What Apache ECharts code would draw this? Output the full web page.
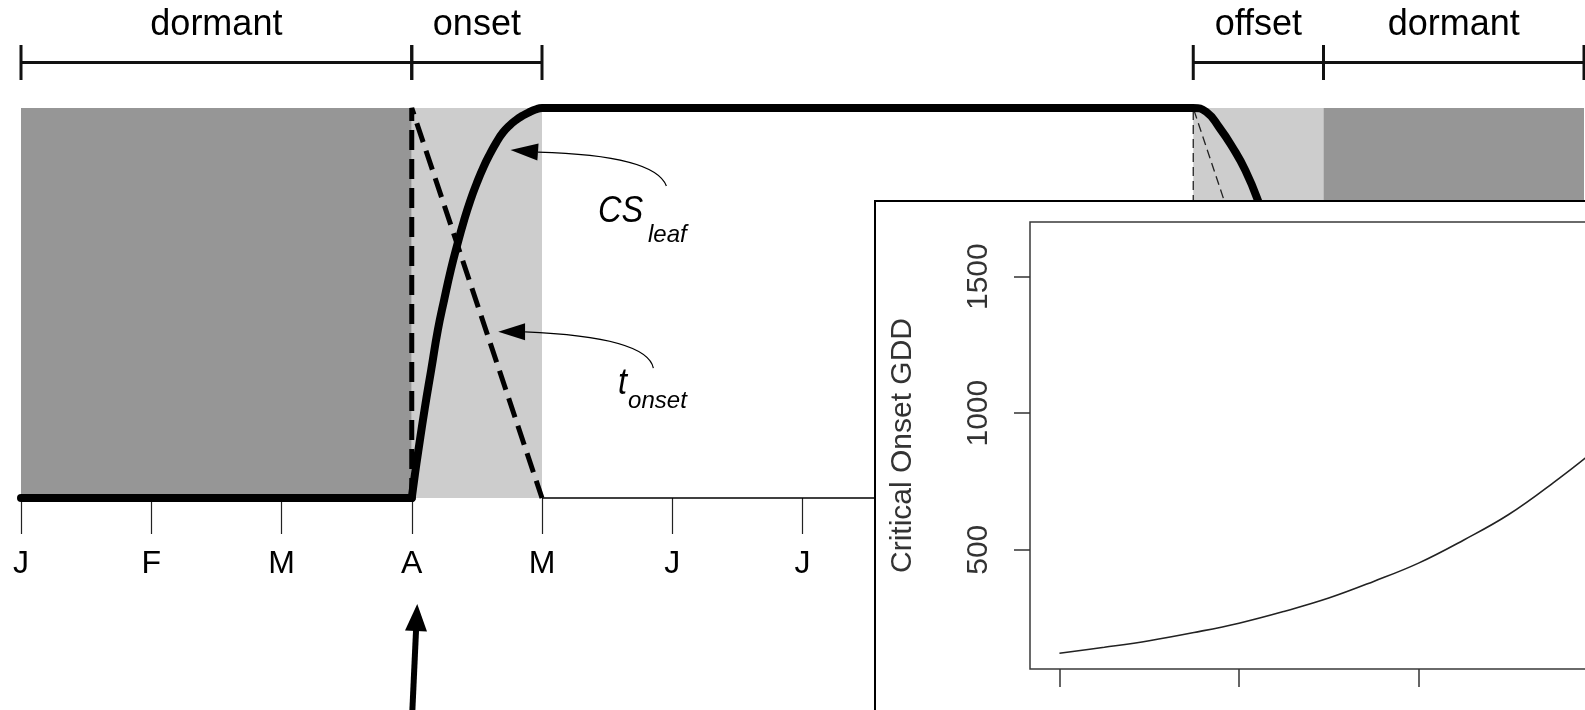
<!DOCTYPE html>
<html><head><meta charset="utf-8">
<script src="https://cdn.jsdelivr.net/npm/echarts@6/dist/echarts.min.js"></script>
<style>html,body{margin:0;padding:0;background:#fff}#c{width:1585px;height:710px}</style>
</head><body><div id="c"></div>
<script>
// ---------- data ----------
const monthLabels = ['J','F','M','A','M','J','J','A','S','O','N','D'];
const phaseNames = ['dormant','onset','offset','dormant'];
const phaseStart = [0, 3, 9, 10];
const phaseEnd = [3, 4, 10, 12];
const phaseShade = ['dark','light','light','dark'];

// canopy status CS_leaf (fraction of maximum) against month position
const csLeafX = [0,3,3.025,3.05,3.1,3.15,3.2,3.25,3.3,3.35,3.4,3.45,3.5,3.55,3.6,3.65,3.7,3.75,3.8,3.85,3.9,3.95,4,9,9.1,9.2,9.3,9.4,9.5,9.6,9.7,9.8,9.9,10,12];
const csLeafY = [0,0,0.062,0.12,0.23,0.33,0.43,0.51,0.585,0.65,0.71,0.763,0.808,0.848,0.882,0.912,0.937,0.955,0.969,0.98,0.989,0.996,1.0,1.0,0.99,0.95,0.90,0.84,0.76,0.66,0.53,0.38,0.20,0,0];

// inset: critical onset GDD curve
const insetX = [0,0.25,0.5,0.75,1,1.25,1.5,1.75,2,2.25,2.5,2.75,3,3.25,3.5,3.75,4.1];
const insetGDD = [121,143,167,197,231,274,323,384,451,535,628,745,875,1030,1220,1420,1640];
const insetXTicks = [0,1,2,3,4];
const insetYTicks = [500,1000,1500];
const insetYName = 'Critical Onset GDD';

// annotation texts
const annotMain = ['CS','t'];
const annotSub = ['leaf','onset'];

// ---------- layout (not data) ----------
const FONT = "'Liberation Sans', Arial, Helvetica, sans-serif";
const DARK = '#969696', LIGHT = '#cdcdcd';
const annotLayout = [
  {tip:[3.758,0.892], base:[3.969,0.887], ctrl:[4.868,0.879], end:[4.955,0.80], main:[4.430,0.700], sub:[4.814,0.651]},
  {tip:[3.664,0.426], base:[3.870,0.426], ctrl:[4.806,0.413], end:[4.855,0.333], main:[4.584,0.259], sub:[4.661,0.226]}
];

const chart = echarts.init(document.getElementById('c'), null, {renderer:'canvas'});

function renderBand(params, api){
  const s = api.value(0), e = api.value(1), k = api.value(2);
  const p0 = api.coord([s,1]), p1 = api.coord([e,0]);
  return {type:'rect', shape:{x:p0[0], y:p0[1], width:p1[0]-p0[0], height:p1[1]-p0[1]},
    style:{fill: k === 0 ? DARK : LIGHT}};
}

function renderBracket(params, api){
  const i = params.dataIndex;
  const s = api.value(0), e = api.value(1);
  const p0 = api.coord([s,1]), p1 = api.coord([e,1]);
  const top = p0[1];
  const yl = top - 45.5, yt0 = top - 63, yt1 = top - 28;
  const st = {stroke:'#111', lineWidth:3};
  return {type:'group', children:[
    {type:'line', shape:{x1:p0[0], y1:yl, x2:p1[0], y2:yl}, style:st},
    {type:'line', shape:{x1:p0[0], y1:yt0, x2:p0[0], y2:yt1}, style:st},
    {type:'line', shape:{x1:p1[0], y1:yt0, x2:p1[0], y2:yt1}, style:st},
    {type:'text', x:(p0[0]+p1[0])/2, y:top-83, style:{text:phaseNames[i], fontSize:36, fontFamily:FONT, fill:'#000', align:'center', verticalAlign:'middle'}}
  ]};
}

function renderAnnot(params, api){
  const i = params.dataIndex;
  const L = annotLayout[i];
  const tip = api.coord(L.tip), base = api.coord(L.base), ctrl = api.coord(L.ctrl), end = api.coord(L.end);
  const dx = tip[0]-base[0], dy = tip[1]-base[1];
  const len = Math.hypot(dx,dy);
  const nx = -dy/len, ny = dx/len, hw = 8.5;
  const m = api.coord(L.main), sb = api.coord(L.sub);
  return {type:'group', children:[
    {type:'bezierCurve', shape:{x1:base[0], y1:base[1], x2:end[0], y2:end[1], cpx1:ctrl[0], cpy1:ctrl[1]}, style:{stroke:'#000', lineWidth:1.2, fill:null}},
    {type:'polygon', shape:{points:[[tip[0],tip[1]],[base[0]+nx*hw, base[1]+ny*hw],[base[0]-nx*hw, base[1]-ny*hw]]}, style:{fill:'#000'}},
    {type:'text', x:m[0], y:m[1]-13, scaleX:0.88, originX:0, originY:0, style:{text:annotMain[i], fontSize:37, fontStyle:'italic', fontFamily:FONT, fill:'#000', align:'left', verticalAlign:'middle'}},
    {type:'text', x:sb[0], y:sb[1]-8.5, style:{text:annotSub[i], fontSize:24, fontStyle:'italic', fontFamily:FONT, fill:'#000', align:'left', verticalAlign:'middle'}}
  ]};
}

function renderBottomArrow(params, api){
  const x = api.value(0);
  const b = api.coord([x, 0]);
  const tip = [b[0] + 5.5, b[1] + 106];
  const tail = [b[0] + 0.5, b[1] + 215];
  const headLen = 27, hw = 11;
  const dx = tip[0]-tail[0], dy = tip[1]-tail[1], len = Math.hypot(dx,dy);
  const ux = dx/len, uy = dy/len;
  const base = [tip[0]-ux*headLen, tip[1]-uy*headLen];
  return {type:'group', children:[
    {type:'line', shape:{x1:tail[0], y1:tail[1], x2:base[0]+ux*2, y2:base[1]+uy*2}, style:{stroke:'#000', lineWidth:6}},
    {type:'polygon', shape:{points:[tip,[base[0]-uy*hw, base[1]+ux*hw],[base[0]+uy*hw, base[1]-ux*hw]]}, style:{fill:'#000'}}
  ]};
}

const bandData = phaseStart.map((s,i)=>[s, phaseEnd[i], phaseShade[i]==='dark'?0:1]);
const bracketData = phaseStart.map((s,i)=>[s, phaseEnd[i]]);
const onsetS = phaseStart[1], onsetE = phaseEnd[1], offS = phaseStart[2], offE = phaseEnd[2];
const csPairs = csLeafX.map((x,i)=>[x, csLeafY[i]]);
const csDormant = csPairs.slice(0, 2);
const csActive = csPairs.slice(1);

const option = {
  animation:false,
  backgroundColor:'#fff',
  textStyle:{fontFamily:FONT},
  grid:[
    {left:21, top:108, width:1563, height:390, outerBoundsMode:'none'},
    {left:875, top:201, width:800, height:600, show:true, backgroundColor:'#fff', borderColor:'#000', borderWidth:2, z:10, outerBoundsMode:'none'},
    {left:1030, top:222, width:795, height:447, show:true, backgroundColor:'rgba(0,0,0,0)', borderColor:'#3a3a3a', borderWidth:1.5, z:11, outerBoundsMode:'none'}
  ],
  xAxis:[
    {gridIndex:0, type:'value', min:0, max:12, interval:1,
     axisLine:{show:false}, splitLine:{show:false},
     axisTick:{show:true, length:36, lineStyle:{color:'#222', width:1.2}},
     axisLabel:{formatter:v => monthLabels[v] !== undefined ? monthLabels[v] : '', fontSize:32, color:'#000', margin:50, fontFamily:FONT}},
    {gridIndex:1, type:'value', min:0, max:1, show:false},
    {gridIndex:2, type:'value', min:-0.164, max:4.264, z:12,
     axisLine:{show:false, onZero:false}, splitLine:{show:false},
     axisTick:{show:true, customValues:insetXTicks, length:18, lineStyle:{color:'#333', width:1.5}},
     axisLabel:{show:false}}
  ],
  yAxis:[
    {gridIndex:0, type:'value', min:0, max:1, show:false},
    {gridIndex:1, type:'value', min:0, max:1, show:false},
    {gridIndex:2, type:'value', min:63.4, max:1700, z:12,
     axisLine:{show:false, onZero:false}, splitLine:{show:false},
     axisTick:{show:true, customValues:insetYTicks, length:16, lineStyle:{color:'#333', width:1.5}},
     axisLabel:{customValues:insetYTicks, formatter:v => String(v), rotate:90, fontSize:30, color:'#333', margin:36, fontFamily:FONT},
     name:insetYName, nameLocation:'middle', nameRotate:90, nameGap:112,
     nameTextStyle:{fontSize:30, color:'#333', fontFamily:FONT}}
  ],
  series:[
    {type:'custom', name:'bands', xAxisIndex:0, yAxisIndex:0, z:1, renderItem:renderBand, data:bandData, encode:{x:[0,1]}, silent:true},
    {type:'line', name:'baseline', xAxisIndex:0, yAxisIndex:0, z:2, clip:false, symbol:'none',
     data:[[onsetE,0],[12,0]], lineStyle:{color:'#000', width:1.5}},
    {type:'line', name:'onset dashed', xAxisIndex:0, yAxisIndex:0, z:3, clip:false, symbol:'none',
     data:[[onsetS,0],[onsetS,1],[onsetE,0]], lineStyle:{color:'#000', width:5, type:[20,9]}},
    {type:'line', name:'offset dashed', xAxisIndex:0, yAxisIndex:0, z:3, clip:false, symbol:'none',
     data:[[offS,0],[offS,1],[offE,0]], lineStyle:{color:'#222', width:1.3, type:[9,5]}},
    {type:'line', name:'CS_leaf dormant', xAxisIndex:0, yAxisIndex:0, z:4, clip:false, symbol:'none',
     data:csDormant, lineStyle:{color:'#000', width:8, cap:'round', join:'round'}},
    {type:'line', name:'CS_leaf', xAxisIndex:0, yAxisIndex:0, z:4, clip:false, symbol:'none', smooth:0.5,
     data:csActive, lineStyle:{color:'#000', width:8, cap:'round', join:'round'}},
    {type:'custom', name:'brackets', xAxisIndex:0, yAxisIndex:0, z:4, clip:false, renderItem:renderBracket, data:bracketData, encode:{x:[0,1]}, silent:true},
    {type:'custom', name:'annotations', xAxisIndex:0, yAxisIndex:0, z:5, clip:false, renderItem:renderAnnot, data:[[0],[1]], encode:{x:0}, silent:true},
    {type:'custom', name:'onset arrow', xAxisIndex:0, yAxisIndex:0, z:5, clip:false, renderItem:renderBottomArrow, data:[[onsetS]], encode:{x:0}, silent:true},
    {type:'line', name:'inset curve', xAxisIndex:2, yAxisIndex:2, z:13, symbol:'none', smooth:0.4,
     data:insetX.map((x,i)=>[x, insetGDD[i]]), lineStyle:{color:'#222', width:1.6}}
  ]
};
chart.setOption(option);
</script></body></html>
